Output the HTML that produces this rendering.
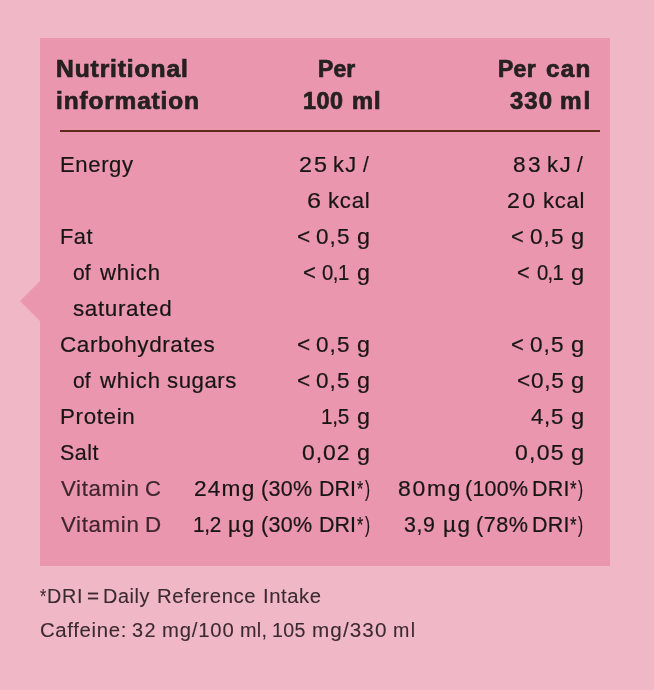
<!DOCTYPE html>
<html lang="en">
<head>
<meta charset="utf-8">
<title>Nutritional information</title>
<style>
html,body{margin:0;padding:0;background:#f0b8c7;}
body{width:654px;height:690px;background:#f0b8c7;position:relative;overflow:hidden;font-family:'Liberation Sans', sans-serif;}
.box{position:absolute;left:40px;top:38px;width:570px;height:528px;background:#e996ae;}
.arrow{position:absolute;left:20px;top:281px;width:0;height:0;border-top:20.5px solid transparent;border-bottom:20.5px solid transparent;border-right:20px solid #e996ae;}
.rule{position:absolute;left:60px;top:130px;width:540px;height:2px;background:#5e2b1b;}
.c{position:absolute;left:0;top:0;width:654px;height:0;line-height:0;white-space:pre;}
.c span{position:absolute;top:0;display:block;line-height:0;height:0;transform-origin:0 0;white-space:pre;}
.h{font-size:23.0px;font-weight:700;color:#262021;-webkit-text-stroke:0.7px #262021;}
.b{font-size:21.4px;color:#181516;-webkit-text-stroke:0.2px #181516;}
.m{font-size:21.4px;color:#3f262d;-webkit-text-stroke:0.2px #3f262d;}
.f{font-size:19.4px;color:#3b2a2f;-webkit-text-stroke:0.1px #3b2a2f;}
</style>
</head>
<body>
<div class="arrow"></div>
<div class="box"></div>
<div class="rule"></div>
<div class="c h" style="top:69.00px"><span style="left:56.30px;letter-spacing:0.805px;transform:scaleX(1.0711)">Nutritional</span></div>
<div class="c h" style="top:101.00px"><span style="left:56.15px;letter-spacing:0.791px;transform:scaleX(1.0634)">information</span></div>
<div class="c h" style="top:69.00px"><span style="left:317.87px;letter-spacing:0.152px;transform:scaleX(0.9968)">Per</span></div>
<div class="c h" style="top:101.00px"><span style="left:303.40px;letter-spacing:0.551px;transform:scaleX(1.0150)">100 </span><span style="left:351.67px;letter-spacing:1.027px;transform:scaleX(1.0288)">ml</span></div>
<div class="c h" style="top:69.00px"><span style="left:498.11px;letter-spacing:0.278px;transform:scaleX(0.9982)">Per </span><span style="left:546.06px;letter-spacing:1.257px;transform:scaleX(1.0511)">can</span></div>
<div class="c h" style="top:101.00px"><span style="left:510.16px;letter-spacing:0.968px;transform:scaleX(1.0407)">330 </span><span style="left:560.31px;letter-spacing:1.705px;transform:scaleX(1.0566)">ml</span></div>
<div class="c b" style="top:165.00px"><span style="left:60.12px;letter-spacing:0.588px;transform:scaleX(1.0328)">Energy</span></div>
<div class="c b" style="top:237.00px"><span style="left:60.27px;letter-spacing:0.491px;transform:scaleX(1.0172)">Fat</span></div>
<div class="c b" style="top:273.00px"><span style="left:73.17px;letter-spacing:0.073px;transform:scaleX(0.9835)">of </span><span style="left:100.18px;letter-spacing:0.803px;transform:scaleX(1.0355)">which</span></div>
<div class="c b" style="top:309.00px"><span style="left:73.09px;letter-spacing:0.606px;transform:scaleX(1.0486)">saturated</span></div>
<div class="c b" style="top:345.00px"><span style="left:60.37px;letter-spacing:0.567px;transform:scaleX(1.0511)">Carbohydrates</span></div>
<div class="c b" style="top:381.00px"><span style="left:73.17px;letter-spacing:0.073px;transform:scaleX(0.9835)">of </span><span style="left:100.18px;letter-spacing:0.803px;transform:scaleX(1.0355)">which </span><span style="left:166.98px;letter-spacing:0.556px;transform:scaleX(1.0360)">sugars</span></div>
<div class="c b" style="top:417.00px"><span style="left:59.94px;letter-spacing:0.620px;transform:scaleX(1.0448)">Protein</span></div>
<div class="c b" style="top:453.00px"><span style="left:60.14px;letter-spacing:0.477px;transform:scaleX(1.0038)">Salt</span></div>
<div class="c m" style="top:489.00px"><span style="left:61.31px;letter-spacing:0.607px;transform:scaleX(1.0438)">Vitamin </span><span style="left:144.78px;transform:scaleX(1.0282)">C</span></div>
<div class="c m" style="top:525.00px"><span style="left:61.31px;letter-spacing:0.607px;transform:scaleX(1.0438)">Vitamin </span><span style="left:145.29px;transform:scaleX(1.0460)">D</span></div>
<div class="c b" style="top:165.00px"><span style="left:298.52px;letter-spacing:1.793px;transform:scaleX(1.0883)">25 </span><span style="left:333.35px;letter-spacing:1.286px;transform:scaleX(1.0177)">kJ </span><span style="left:362.90px;transform:scaleX(0.9677)">/</span></div>
<div class="c b" style="top:201.00px"><span style="left:306.90px;transform:scaleX(1.1816)">6 </span><span style="left:328.27px;letter-spacing:0.731px;transform:scaleX(1.0385)">kcal</span></div>
<div class="c b" style="top:237.00px"><span style="left:297.10px;transform:scaleX(1.0544)">&lt; </span><span style="left:316.22px;letter-spacing:1.021px;transform:scaleX(1.0510)">0,5 </span><span style="left:356.87px;transform:scaleX(1.0877)">g</span></div>
<div class="c b" style="top:273.00px"><span style="left:302.78px;transform:scaleX(1.0280)">&lt; </span><span style="left:322.35px;letter-spacing:-0.481px;transform:scaleX(0.9459)">0,1 </span><span style="left:356.87px;transform:scaleX(1.0877)">g</span></div>
<div class="c b" style="top:345.00px"><span style="left:297.10px;transform:scaleX(1.0544)">&lt; </span><span style="left:316.22px;letter-spacing:1.021px;transform:scaleX(1.0510)">0,5 </span><span style="left:356.87px;transform:scaleX(1.0877)">g</span></div>
<div class="c b" style="top:381.00px"><span style="left:297.10px;transform:scaleX(1.0544)">&lt; </span><span style="left:316.22px;letter-spacing:1.021px;transform:scaleX(1.0510)">0,5 </span><span style="left:356.87px;transform:scaleX(1.0877)">g</span></div>
<div class="c b" style="top:417.00px"><span style="left:321.16px;letter-spacing:-0.301px;transform:scaleX(0.9672)">1,5 </span><span style="left:356.87px;transform:scaleX(1.0877)">g</span></div>
<div class="c b" style="top:453.00px"><span style="left:302.11px;letter-spacing:0.897px;transform:scaleX(1.0704)">0,02 </span><span style="left:356.87px;transform:scaleX(1.0877)">g</span></div>
<div class="c b" style="top:489.00px"><span style="left:194.13px;letter-spacing:1.114px;transform:scaleX(1.0597)">24mg </span><span style="left:261.06px;letter-spacing:0.274px;transform:scaleX(1.0059)">(30% </span><span style="left:319.10px;letter-spacing:0.026px;transform:scaleX(1.0015)">DRI</span><span style="left:356.97px;transform:scaleX(0.7439)">*</span><span style="left:364.92px;transform:scaleX(0.7053)">)</span></div>
<div class="c b" style="top:525.00px"><span style="left:193.28px;letter-spacing:-0.234px;transform:scaleX(0.9708)">1,2 </span><span style="left:228.41px;letter-spacing:1.235px;transform:scaleX(1.0239)">µg </span><span style="left:261.06px;letter-spacing:0.274px;transform:scaleX(1.0059)">(30% </span><span style="left:319.10px;letter-spacing:0.026px;transform:scaleX(1.0015)">DRI</span><span style="left:356.97px;transform:scaleX(0.7439)">*</span><span style="left:364.92px;transform:scaleX(0.7053)">)</span></div>
<div class="c b" style="top:165.00px"><span style="left:513.35px;letter-spacing:2.276px;transform:scaleX(1.0585)">83 </span><span style="left:547.24px;letter-spacing:1.623px;transform:scaleX(1.0252)">kJ </span><span style="left:577.10px;transform:scaleX(0.9852)">/</span></div>
<div class="c b" style="top:201.00px"><span style="left:506.53px;letter-spacing:2.330px;transform:scaleX(1.0780)">20 </span><span style="left:542.77px;letter-spacing:0.672px;transform:scaleX(1.0358)">kcal</span></div>
<div class="c b" style="top:237.00px"><span style="left:511.12px;transform:scaleX(1.0221)">&lt; </span><span style="left:530.08px;letter-spacing:0.986px;transform:scaleX(1.0544)">0,5 </span><span style="left:571.29px;transform:scaleX(1.1089)">g</span></div>
<div class="c b" style="top:273.00px"><span style="left:516.80px;transform:scaleX(1.0110)">&lt; </span><span style="left:537.09px;letter-spacing:-0.802px;transform:scaleX(0.9477)">0,1 </span><span style="left:571.29px;transform:scaleX(1.1089)">g</span></div>
<div class="c b" style="top:345.00px"><span style="left:511.12px;transform:scaleX(1.0221)">&lt; </span><span style="left:530.08px;letter-spacing:0.986px;transform:scaleX(1.0544)">0,5 </span><span style="left:571.29px;transform:scaleX(1.1089)">g</span></div>
<div class="c b" style="top:381.00px"><span style="left:517.05px;letter-spacing:0.706px;transform:scaleX(1.0551)">&lt;0,5 </span><span style="left:571.29px;transform:scaleX(1.1089)">g</span></div>
<div class="c b" style="top:417.00px"><span style="left:531.48px;letter-spacing:0.673px;transform:scaleX(1.0389)">4,5 </span><span style="left:571.29px;transform:scaleX(1.1089)">g</span></div>
<div class="c b" style="top:453.00px"><span style="left:515.00px;letter-spacing:1.162px;transform:scaleX(1.0765)">0,05 </span><span style="left:571.29px;transform:scaleX(1.1089)">g</span></div>
<div class="c b" style="top:489.00px"><span style="left:397.67px;letter-spacing:1.622px;transform:scaleX(1.0728)">80mg </span><span style="left:465.31px;letter-spacing:0.281px;transform:scaleX(1.0007)">(100% </span><span style="left:532.02px;letter-spacing:0.257px;transform:scaleX(1.0015)">DRI</span><span style="left:570.05px;transform:scaleX(0.7878)">*</span><span style="left:578.23px;transform:scaleX(0.7101)">)</span></div>
<div class="c b" style="top:525.00px"><span style="left:404.14px;letter-spacing:0.566px;transform:scaleX(0.9993)">3,9 </span><span style="left:442.77px;letter-spacing:1.625px;transform:scaleX(1.0483)">µg </span><span style="left:476.22px;letter-spacing:0.490px;transform:scaleX(1.0110)">(78% </span><span style="left:532.02px;letter-spacing:0.257px;transform:scaleX(1.0015)">DRI</span><span style="left:570.05px;transform:scaleX(0.7878)">*</span><span style="left:578.23px;transform:scaleX(0.7101)">)</span></div>
<div class="c f" style="top:596.20px"><span style="left:40.24px;transform:scaleX(0.8371)">*</span><span style="left:46.96px;letter-spacing:0.726px;transform:scaleX(1.0192)">DRI </span><span style="left:86.93px;transform:scaleX(1.0631)">= </span><span style="left:103.15px;letter-spacing:0.533px;transform:scaleX(1.0247)">Daily </span><span style="left:157.17px;letter-spacing:0.572px;transform:scaleX(1.0491)">Reference </span><span style="left:263.04px;letter-spacing:0.539px;transform:scaleX(1.0446)">Intake</span></div>
<div class="c f" style="top:629.60px"><span style="left:40.45px;letter-spacing:0.610px;transform:scaleX(1.0509)">Caffeine: </span><span style="left:132.08px;letter-spacing:1.301px;transform:scaleX(1.0267)">32 </span><span style="left:162.46px;letter-spacing:0.782px;transform:scaleX(1.0446)">mg/100 </span><span style="left:239.73px;letter-spacing:0.254px;transform:scaleX(1.0221)">ml, </span><span style="left:272.30px;letter-spacing:0.306px;transform:scaleX(1.0119)">105 </span><span style="left:312.37px;letter-spacing:1.031px;transform:scaleX(1.0649)">mg/330 </span><span style="left:392.96px;letter-spacing:1.379px;transform:scaleX(1.0116)">ml</span></div>
</body>
</html>
